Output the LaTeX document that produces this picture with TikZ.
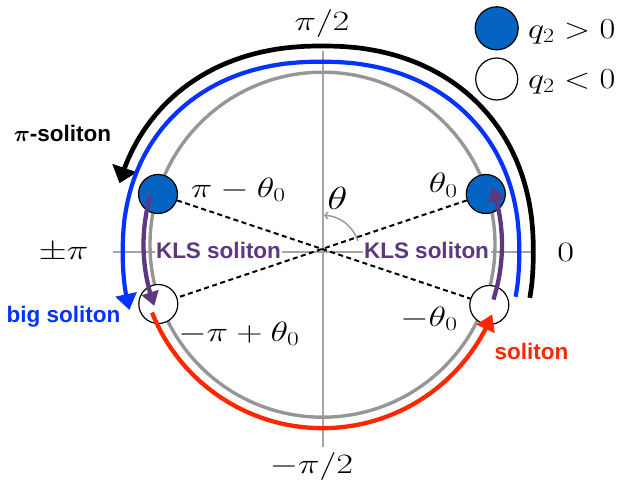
\RequirePackage{fix-cm}
\documentclass[tikz,border=0pt]{standalone}
\usepackage{amsmath}
\usepackage{graphicx}
\usepackage{fontspec}
\setsansfont{Liberation Sans}
\usetikzlibrary{arrows.meta}
\definecolor{dotblue}{RGB}{5,99,193}
\definecolor{arcblue}{RGB}{4,51,255}
\definecolor{arcred}{RGB}{255,38,0}
\definecolor{kls}{RGB}{94,55,130}
\definecolor{circgray}{RGB}{150,150,150}
\definecolor{axisgray}{RGB}{165,165,165}
\newcommand{\mylbl}[1]{\scalebox{1.3}[1]{$#1$}}
\begin{document}
\begin{tikzpicture}[x=1pt,y=-1pt,
  axisline/.style={draw=axisgray,line width=2.2},
  graycirc/.style={draw=circgray,line width=3.4},
  bdot/.style={circle,draw=black,line width=1.2,fill=dotblue,minimum size=39,inner sep=0},
  wdot/.style={circle,draw=black,line width=1.2,fill=white,minimum size=39,inner sep=0},
  ldotb/.style={bdot,minimum size=43},
  ldotw/.style={wdot,minimum size=42},
  dashline/.style={draw=black,line width=2,dash pattern=on 5pt off 3.5pt},
  blackarc/.style={draw=black,line width=4.7,-{Triangle[length=16pt,width=25pt]}},
  bluearc/.style={draw=arcblue,line width=4.2,-{Triangle[length=16pt,width=21pt]}},
  redarc/.style={draw=arcred,line width=4.3,-{Triangle[length=16pt,width=19pt]}},
  klsarc/.style={draw=kls,line width=4.3,-{Triangle[length=14pt,width=17pt]}},
  thetaarc/.style={draw=circgray,line width=1.4,-{Straight Barb[length=3pt,width=7pt]}},
  mathlbl/.style={anchor=base,inner sep=0,font=\fontsize{28}{34}\selectfont},
  legendlbl/.style={anchor=base west,inner sep=0,font=\fontsize{29}{34}\selectfont},
  sanslbl/.style={anchor=base,inner sep=0,font=\fontsize{22.5}{27}\selectfont\sffamily\bfseries},
  klslbl/.style={sanslbl,text=kls,fill=white,inner sep=1.5},
  declare function={sxp(\u)=((cos(\u)<0)?-1:1)*pow(abs(cos(\u))+0.0001,0.909);
                    syp(\u)=((sin(\u)<0)?-1:1)*pow(abs(sin(\u))+0.0001,0.909);}
]
\path[use as bounding box] (0,0) rectangle (618,489);

% axes
\coordinate (vt) at (322.7,50.7);
\coordinate (vb) at (322.7,446.7);
\coordinate (hl) at (113,252.3);
\coordinate (hr) at (532,252.3);
\draw[axisline] (vt) -- (vb);
\draw[axisline] (hl) -- (hr);

% KLS labels (white background over axis)
\node[klslbl] (klsL) at (218.5,258.3) {KLS soliton};
\node[klslbl] (klsR) at (426.5,258.3) {KLS soliton};

% gray circle
\draw[graycirc] (322.5,244.7) circle[radius=172.5];

% dots
\node[bdot] (d1) at (485.8,194) {};
\node[bdot] (d2) at (158,194) {};
\node[wdot] (d3) at (158.3,304) {};
\node[wdot] (d4) at (489.3,305) {};

% dashed lines
\draw[dashline] (d2) -- (d4);
\draw[dashline] (d1) -- (d3);

% theta arc
\coordinate (ta) at (357.9,240.9);
\draw[thetaarc] (ta) arc[start angle=-18,end angle=-88,radius=37];

% pi-soliton (black)
\draw[blackarc] plot[domain=-11:157.5,samples=90,variable=\t]
  ({322+211.3*sxp(\t)},{252-206*syp(\t)}) -- ({322+211.3*sxp(162.6)},{252-206*syp(162.6)});
% big soliton (blue)
\draw[bluearc] plot[domain=-11.7:190.5,samples=100,variable=\t]
  ({321+198.3*sxp(\t)},{252-190.3*syp(\t)}) -- ({321+198.3*sxp(195.7)},{252-190.3*syp(195.7)});
% soliton (red)
\draw[redarc] plot[domain=201.7:332,samples=60,variable=\t]
  ({322.5+183.5*cos(\t)},{244.7-183.5*sin(\t)}) -- ({322.5+183.5*cos(337.7)},{244.7-183.5*sin(337.7)});
% KLS solitons (purple)
\draw[klsarc] plot[domain=164:195,samples=20,variable=\t]
  ({322.5+179*cos(\t)},{244.7-179*sin(\t)}) -- ({322.5+179*cos(200)},{244.7-179*sin(200)});
\draw[klsarc] plot[domain=-17.8:13.5,samples=20,variable=\t]
  ({322.5+179.5*cos(\t)},{244.7-179.5*sin(\t)}) -- ({322.5+179.5*cos(18.7)},{244.7-179.5*sin(18.7)});

% math labels
\node[mathlbl] (lpi2) at (322,30.7) {\mylbl{\pi/2}};
\node[mathlbl] (lmpi2) at (311.5,473) {\mylbl{-\pi/2}};
\node[mathlbl] (lpm) at (63.5,259.5) {\mylbl{\pm\pi}};
\node[mathlbl] (lzero) at (565.7,261) {\mylbl{0}};
\node[mathlbl] (la) at (238.3,197) {\mylbl{\pi-\theta_0}};
\node[mathlbl] (lb) at (443.3,193) {\mylbl{\theta_0}};
\node[mathlbl] (lc) at (239,341) {\mylbl{-\pi+\theta_0}};
\node[mathlbl] (ld) at (429,326) {\mylbl{-\theta_0}};
\node[mathlbl,font=\fontsize{32}{38}\selectfont] (lth) at (337.5,209.5) {\mylbl{\theta}};

% legend
\node[ldotb] (lg1) at (496.7,28.3) {};
\node[ldotw] (lg2) at (496.7,79) {};
\node[legendlbl] (lt1) at (528,38.3) {\scalebox{1.18}[1]{$q_2>0$}};
\node[legendlbl] (lt2) at (528,88.3) {\scalebox{1.18}[1]{$q_2<0$}};

% soliton labels
\node[sanslbl] (ps) at (62.5,141.7) {$\boldsymbol{\pi}$-soliton};
\node[sanslbl,text=arcblue] (bs) at (63.5,322.7) {big soliton};
\node[sanslbl,text=arcred] (rs) at (531.5,359.3) {soliton};
\end{tikzpicture}
\end{document}
